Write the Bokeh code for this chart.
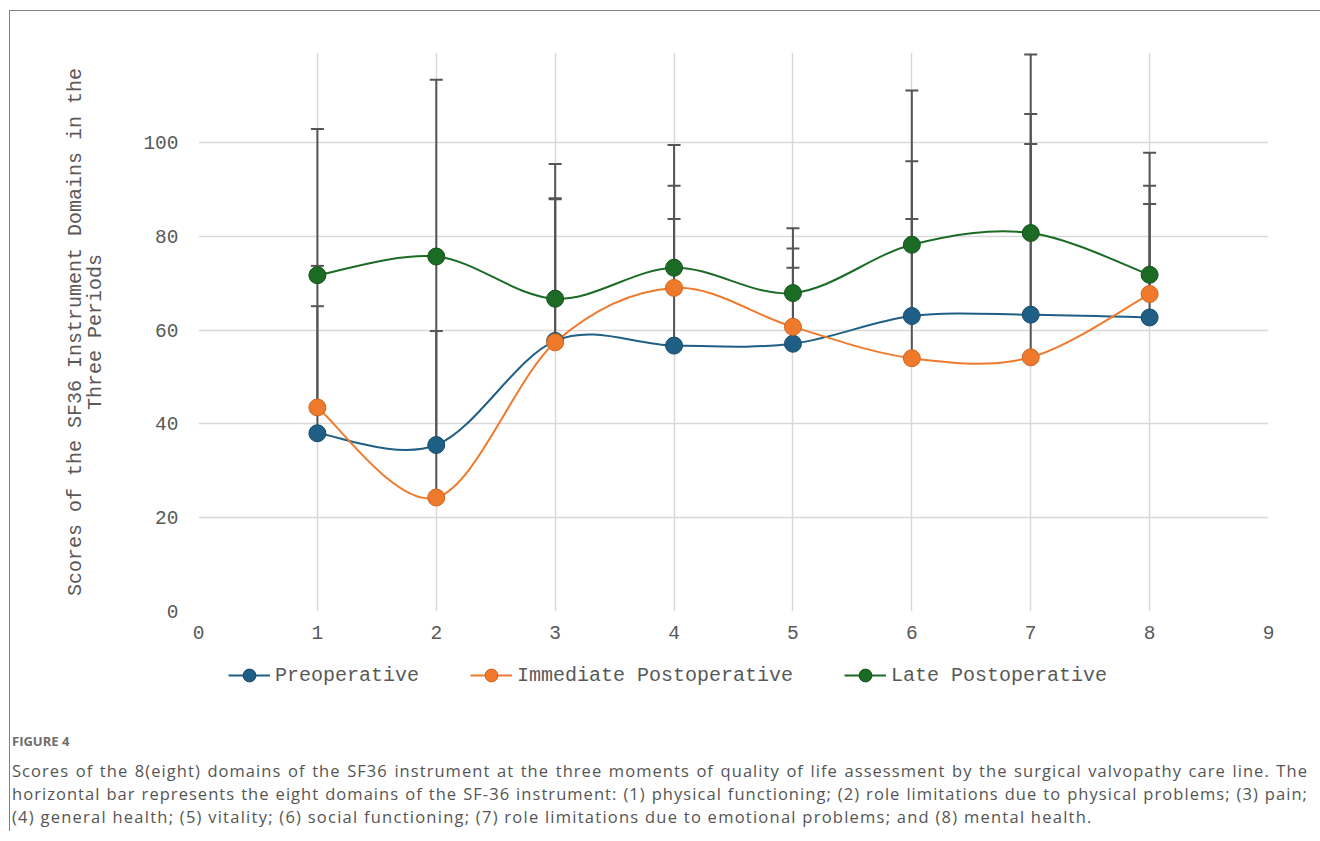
from bokeh.plotting import figure
from bokeh.models import (ColumnDataSource, Whisker, TeeHead, Legend, LegendItem,
                          Range1d, Div)
from bokeh.layouts import column
from bokeh.embed import file_html
from bokeh.resources import INLINE

# ---------------- data ----------------
domains = [1, 2, 3, 4, 5, 6, 7, 8]
x_ticks = [0, 1, 2, 3, 4, 5, 6, 7, 8, 9]
y_ticks = [0, 20, 40, 60, 80, 100]

series_names = ["Preoperative", "Immediate Postoperative", "Late Postoperative"]
pre_mean = [38.0, 35.5, 57.7, 56.7, 57.1, 63.0, 63.3, 62.7]
imm_mean = [43.5, 24.3, 57.4, 69.0, 60.7, 54.0, 54.2, 67.7]
late_mean = [71.7, 75.7, 66.7, 73.3, 67.9, 78.2, 80.7, 71.8]

pre_sd = [27.1, 40.1, 30.2, 27.0, 16.2, 33.0, 36.4, 24.2]
imm_sd = [30.2, 35.5, 30.7, 21.8, 16.7, 29.7, 51.9, 23.1]
late_sd = [31.2, 37.7, 28.7, 26.2, 13.8, 32.9, 38.1, 26.0]

colors = ["#1f5f86", "#f07a2c", "#1b6b24"]
edge_colors = ["#174b6a", "#cf6420", "#14521b"]

y_label = "Scores of the SF36 Instrument Domains in the\nThree Periods"
caption_head = "FIGURE 4"
caption_lines = [
    "Scores of the 8(eight) domains of the SF36 instrument at the three moments of quality of life assessment by the surgical valvopathy care line. The",
    "horizontal bar represents the eight domains of the SF-36 instrument: (1) physical functioning; (2) role limitations due to physical problems; (3) pain;",
    "(4) general health; (5) vitality; (6) social functioning; (7) role limitations due to emotional problems; and (8) mental health.",
]

MONO = "Liberation Mono"
TXT = "#595959"

# ---------------- main figure ----------------
W = 1310
LEFT, RIGHT = 188, W - 1258
p = figure(width=W, height=640, output_backend="svg", toolbar_location=None,
           x_range=Range1d(0, 9), y_range=Range1d(0, 119.2),
           min_border_left=LEFT, min_border_right=RIGHT,
           min_border_top=41, min_border_bottom=40)
p.outline_line_color = None
p.background_fill_color = "white"
p.border_fill_color = "white"

for ax in (p.xaxis[0], p.yaxis[0]):
    ax.axis_line_color = None
    ax.major_tick_line_color = None
    ax.minor_tick_line_color = None
    ax.major_label_text_font = MONO
    ax.major_label_text_font_size = "19.5px"
    ax.major_label_text_color = TXT
p.xaxis.ticker = x_ticks
p.yaxis.ticker = y_ticks
p.xaxis.major_label_standoff = 8
p.yaxis.major_label_standoff = 14
p.yaxis.axis_label = y_label
p.yaxis.axis_label_text_font = MONO
p.yaxis.axis_label_text_font_size = "20px"
p.yaxis.axis_label_text_font_style = "normal"
p.yaxis.axis_label_text_color = TXT
p.yaxis.axis_label_text_line_height = 0.88
p.yaxis.axis_label_standoff = 33

p.xgrid.ticker = x_ticks
p.ygrid.ticker = y_ticks
p.grid.grid_line_color = "#d9d9d9"
p.grid.grid_line_width = 1.5

means = [pre_mean, imm_mean, late_mean]
sds = [pre_sd, imm_sd, late_sd]

# error bars (upper only)
for m, s in zip(means, sds):
    src = ColumnDataSource(dict(x=domains, lower=m, upper=[a + b for a, b in zip(m, s)]))
    w = Whisker(source=src, base="x", upper="upper", lower="lower", dimension="height",
                line_color="#555555", line_width=2,
                upper_head=TeeHead(size=13, line_color="#555555", line_width=2),
                lower_head=None)
    p.add_layout(w)


def smooth_segments(xs, ys):
    n = len(xs)
    d = dict(x0=[], y0=[], x1=[], y1=[], cx0=[], cy0=[], cx1=[], cy1=[])
    for i in range(n - 1):
        a = i - 1 if i > 0 else i
        b = i + 2 if i + 2 < n else i + 1
        d["x0"].append(xs[i]); d["y0"].append(ys[i])
        d["x1"].append(xs[i + 1]); d["y1"].append(ys[i + 1])
        d["cx0"].append(xs[i] + (xs[i + 1] - xs[a]) / 6)
        d["cy0"].append(ys[i] + (ys[i + 1] - ys[a]) / 6)
        d["cx1"].append(xs[i + 1] - (xs[b] - xs[i]) / 6)
        d["cy1"].append(ys[i + 1] - (ys[b] - ys[i]) / 6)
    return d


for m, c in zip(means, colors):
    seg = ColumnDataSource(smooth_segments(domains, m))
    p.bezier(x0="x0", y0="y0", x1="x1", y1="y1", cx0="cx0", cy0="cy0",
             cx1="cx1", cy1="cy1", source=seg, line_color=c, line_width=2)

for m, c, ec in zip(means, colors, edge_colors):
    p.scatter(x=domains, y=m, size=17, fill_color=c, line_color=ec, line_width=1)

# ---------------- legend strip ----------------
# the series are drawn here again but fall outside this strip's ranges;
# they only serve as legend glyph sources
lg = figure(width=W, height=50, output_backend="svg", toolbar_location=None,
            x_range=Range1d(-100, -99), y_range=Range1d(-100, -99),
            min_border_left=LEFT, min_border_right=RIGHT,
            min_border_top=0, min_border_bottom=0)
lg.axis.visible = False
lg.grid.visible = False
lg.outline_line_color = None

items = []
for name, m, c, ec in zip(series_names, means, colors, edge_colors):
    lr = lg.line(x=domains, y=m, line_color=c, line_width=2)
    sr = lg.scatter(x=domains, y=m, size=17, fill_color=c, line_color=ec, line_width=1)
    items.append(LegendItem(label=name, renderers=[lr, sr]))

legend = Legend(items=items, orientation="horizontal", location=(30, 10),
                glyph_width=42, glyph_height=32, label_standoff=5, spacing=51,
                padding=0, margin=0, border_line_color=None,
                background_fill_alpha=0,
                label_text_font=MONO, label_text_font_size="20px",
                label_text_color=TXT)
lg.add_layout(legend)

# ---------------- caption ----------------
just = 'width:1296px;text-align:justify;text-align-last:justify;letter-spacing:1.05px;'
cap_html = (
    '<div style="padding:30px 0 0 2px;font-family:\'Open Sans\';color:#555555;'
    'font-size:16.5px;line-height:23px;">'
    '<div style="font-size:13px;font-weight:bold;color:#6d6d6d;line-height:20px;'
    'margin-bottom:8px;">' + caption_head + '</div>'
    '<div style="' + just + '">' + caption_lines[0] + '</div>'
    '<div style="' + just + '">' + caption_lines[1] + '</div>'
    '<div style="letter-spacing:1.25px;white-space:nowrap;">' + caption_lines[2] + '</div>'
    '</div>'
)
cap = Div(text=cap_html, width=W, height=130, margin=(0, 0, 0, 0))

layout = column(p, lg, cap, spacing=0,
                styles={"border-top": "1px solid #808080",
                        "border-left": "1px solid #808080",
                        "margin-left": "9px", "margin-top": "10px"})

open("out.html", "w").write(file_html(layout, INLINE))
